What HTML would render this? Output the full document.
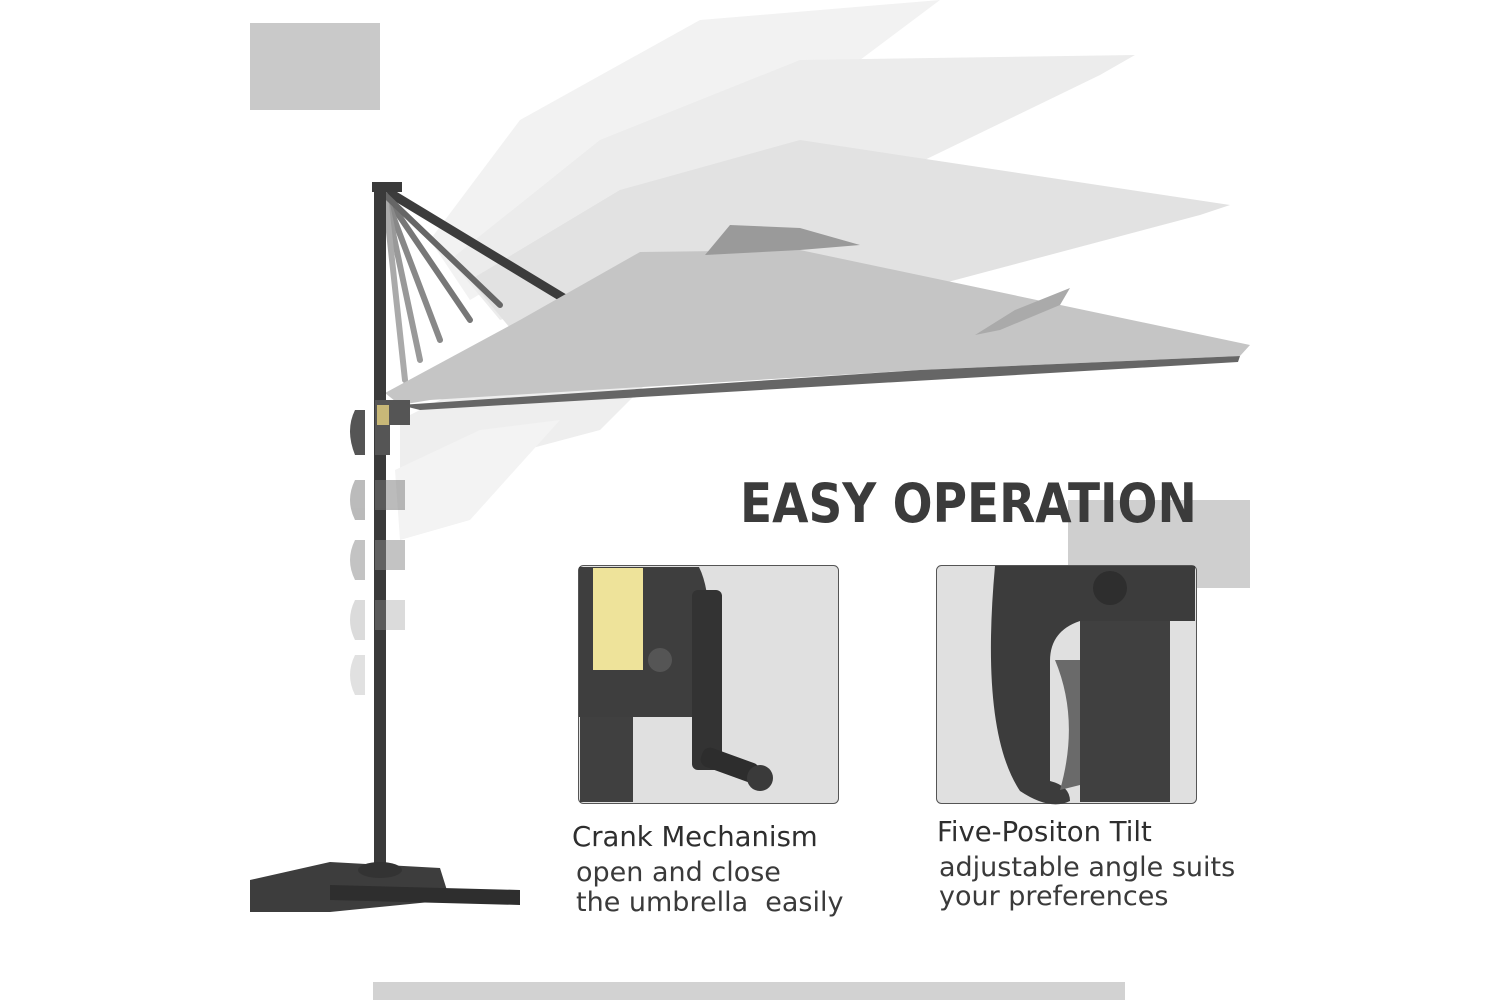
<!DOCTYPE html>
<html><head><meta charset="utf-8"><style>
html,body{margin:0;padding:0;background:#fff;width:1500px;height:1000px;overflow:hidden}
svg{position:absolute;left:0;top:0}
.t{position:absolute;font-family:"DejaVu Sans","Liberation Sans",sans-serif;color:#333;white-space:nowrap}
</style></head><body>
<svg width="1500" height="1000" viewBox="0 0 1500 1000">
<rect x="250" y="23" width="130" height="87" fill="#c9c9c9"/>
<rect x="1068" y="500" width="182" height="88" fill="#cfcfcf"/>
<rect x="373" y="982" width="752" height="18" fill="#d2d2d2"/>
<polygon points="430,240 520,120 700,20 940,0 860,60 640,200 470,300" fill="#f2f2f2"/>
<polygon points="450,260 600,140 800,60 1135,55 1100,75 780,230 500,320" fill="#ececec"/>
<polygon points="470,280 620,190 800,140 1230,205 1200,215 880,300 520,340" fill="#e2e2e2"/>
<polygon points="400,420 500,370 700,330 600,430 450,470 400,480" fill="#eeeeee"/>
<polygon points="395,470 480,430 560,420 470,520 400,540" fill="#f3f3f3"/>
<g stroke-linecap="round">
<line x1="385" y1="190" x2="575" y2="305" stroke="#3c3c3c" stroke-width="9"/>
<line x1="385" y1="195" x2="470" y2="320" stroke="#777" stroke-width="6"/>
<line x1="385" y1="195" x2="440" y2="340" stroke="#888" stroke-width="6"/>
<line x1="385" y1="195" x2="420" y2="360" stroke="#999" stroke-width="6"/>
<line x1="385" y1="195" x2="405" y2="380" stroke="#aaa" stroke-width="6"/>
<line x1="385" y1="195" x2="500" y2="305" stroke="#666" stroke-width="6"/>
</g>
<polygon points="385,393 520,320 640,252 800,250 1250,345 1240,356 920,370 430,400 400,405" fill="#c5c5c5"/>
<polygon points="400,405 920,370 1240,356 1238,362 420,410" fill="#666"/>
<polygon points="705,255 730,225 800,228 860,245 800,250" fill="#9a9a9a"/>
<polygon points="975,335 1015,310 1070,288 1060,305 1000,330" fill="#aaa"/>
<rect x="374" y="185" width="12" height="690" fill="#3a3a3a"/>
<rect x="372" y="182" width="30" height="10" fill="#3a3a3a"/>
<path d="M375,400 h35 v25 h-20 v30 h-15z" fill="#555"/>
<rect x="377" y="405" width="12" height="20" fill="#c8b878"/>
<path d="M355,410 q-10,20 0,45 h10 v-45z" fill="#555"/>
<g opacity="0.5"><path d="M355,480 q-10,20 0,40 h10 v-40z M375,480 h30 v30 h-30z" fill="#777"/>
<path d="M355,540 q-10,20 0,40 h10 v-40z M375,540 h30 v30 h-30z" fill="#888"/></g>
<g opacity="0.35"><path d="M355,600 q-10,20 0,40 h10 v-40z M375,600 h30 v30 h-30z" fill="#999"/>
<path d="M355,655 q-10,20 0,40 h10 v-40z" fill="#aaa"/></g>
<polygon points="250,880 330,862 440,868 450,900 330,912 250,912" fill="#3d3d3d"/>
<polygon points="330,885 520,890 520,905 330,900" fill="#2e2e2e"/>
<ellipse cx="380" cy="870" rx="22" ry="8" fill="#333"/>
<rect x="578.5" y="565.5" width="260" height="238" rx="5" fill="#e0e0e0" stroke="#555"/>
<rect x="580" y="710" width="53" height="92" fill="#404040"/>
<path d="M579,567 h120 q20,40 0,150 h-120z" fill="#3e3e3e"/>
<rect x="593" y="568" width="50" height="102" fill="#eee39a"/>
<circle cx="660" cy="660" r="12" fill="#555"/>
<rect x="692" y="590" width="30" height="180" rx="6" fill="#333"/>
<rect x="700" y="755" width="60" height="20" rx="8" fill="#2d2d2d" transform="rotate(20 730 765)"/>
<circle cx="760" cy="778" r="13" fill="#3a3a3a"/>
<rect x="936.5" y="565.5" width="260" height="238" rx="5" fill="#e0e0e0" stroke="#555"/>
<rect x="1080" y="600" width="90" height="202" fill="#404040"/>
<path d="M990,566 h205 v55 h-115 q-30,10 -30,40 v120 q20,5 20,20 q-20,10 -50,-10 q-40,-60 -25,-225z" fill="#3c3c3c"/>
<path d="M1055,660 q25,60 5,130 l20,-5 v-125z" fill="#6a6a6a"/>
<circle cx="1110" cy="588" r="17" fill="#2e2e2e"/>
</svg>
<div class="t" style="left:740px;top:472px;font-size:54px;font-weight:bold;color:#3b3b3b;transform:scaleX(0.87);transform-origin:0 0">EASY OPERATION</div>
<div class="t" style="left:572px;top:821px;font-size:27.5px;color:#2e2e2e">Crank Mechanism</div>
<div class="t" style="left:576px;top:857px;font-size:27px;color:#3a3a3a">open and close</div>
<div class="t" style="left:576px;top:887px;font-size:27px;color:#3a3a3a">the umbrella&nbsp; easily</div>
<div class="t" style="left:937px;top:816px;font-size:27.5px;color:#2e2e2e">Five-Positon Tilt</div>
<div class="t" style="left:939px;top:852px;font-size:27px;color:#3a3a3a">adjustable angle suits</div>
<div class="t" style="left:939px;top:881px;font-size:27px;color:#3a3a3a">your preferences</div>
</body></html>
